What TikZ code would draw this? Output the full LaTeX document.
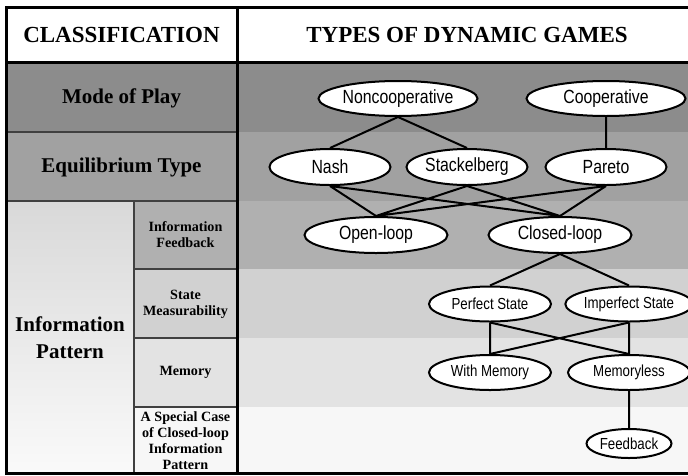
\documentclass[tikz,border=0pt]{standalone}
\usepackage{fontspec}
\setmainfont{Liberation Serif}
\newfontfamily\ellfont[FakeStretch=0.83]{Liberation Sans}
\usetikzlibrary{
  shapes.geometric,
  positioning
}
\definecolor{rowmode}{gray}{0.55}
\definecolor{rowequil}{gray}{0.63}
\definecolor{rowfb}{gray}{0.69}
\definecolor{rowmeas}{gray}{0.82}
\definecolor{rowmem}{gray}{0.89}
\definecolor{rowspec}{gray}{0.97}

\begin{document}
\begin{tikzpicture}[x=0.75pt, y=-0.75pt,
    game/.style = {ellipse, draw, line width=1.5pt, fill=white, inner sep=0pt,
      font=\ellfont\fontsize{14.3}{16}\selectfont},
    small/.style = {game, font=\ellfont\fontsize{12}{14}\selectfont},
    head/.style = {font=\bfseries\fontsize{17.25}{20}\selectfont},
    cls/.style = {font=\bfseries\fontsize{15.75}{20.25}\selectfont, align=center},
    sub/.style = {font=\bfseries\fontsize{10.6}{12}\selectfont, align=center},
    thin/.style = {line width=0.8pt, black!75},
    frame/.style = {line width=2.25pt}]
    \useasboundingbox (0,0) rectangle (688,475);
    \fill[white] (0,0) rectangle (688,475);

    % rows
    \fill[rowmode] (6,62) rectangle (697,132);
    \fill[rowequil] (6,132) rectangle (697,201);
    \fill[rowfb] (6,201) rectangle (697,269);
    \fill[rowmeas] (6,269) rectangle (697,338);
    \fill[rowmem] (6,338) rectangle (697,407);
    \fill[rowspec] (6,407) rectangle (697,473);
    \shade[top color=black!15, bottom color=black!2] (6,201) rectangle (134,473);

    \draw[thin] (6,132) -- (237,132);
    \draw[thin] (6,201) -- (237,201);
    \draw[thin] (134,201) -- (134,473);
    \draw[thin] (134,269) -- (237,269);
    \draw[thin] (134,338) -- (237,338);
    \draw[thin] (134,407) -- (237,407);
    \draw[frame] (6,7) rectangle (697,473);
    \draw[frame] (6,62) -- (697,62);
    \draw[frame] (237,7) -- (237,473);

    % classification
    \node[head] (clshead) at (121.5,35) {CLASSIFICATION};
    \node[head] (typeshead) at (467,35) {TYPES OF DYNAMIC GAMES};
    \node[cls] (mode) at (121.5,98) {Mode of Play};
    \node[cls] (equil) at (121.5,167) {Equilibrium Type};
    \node[cls] (pattern) at (70,338) {Information\\Pattern};
    \node[sub] (feedbk) at (185.5,235) {Information\\Feedback};
    \node[sub] (meas) at (185.5,304) {State\\Measurability};
    \node[sub] (memory) at (185.5,372.5) {Memory};
    \node[sub] (special) at (185.5,441) {A Special Case\\of Closed-loop\\Information\\Pattern};

    % types of games
    \node[game, minimum width=119.25pt, minimum height=26.25pt] (noncoop) at (398,98.5) {Noncooperative};
    \node[game, minimum width=119.25pt, minimum height=26.25pt] (coop) at (606,98.5) {Cooperative};
    \node[game, minimum width=90.75pt, minimum height=27pt] (nash) at (330,167) {Nash};
    \node[game, minimum width=90.75pt, minimum height=27pt] (stack) at (467,167) {Stackelberg};
    \node[game, minimum width=90.75pt, minimum height=27pt] (pareto) at (606,167) {Pareto};
    \node[game, minimum width=107.25pt, minimum height=27pt] (open) at (376,235) {Open-loop};
    \node[game, minimum width=107.25pt, minimum height=27pt] (closed) at (560,235) {Closed-loop};
    \node[small, minimum width=91.5pt, minimum height=26.25pt] (perfect) at (490,304) {Perfect State};
    \node[small, minimum width=91.5pt, minimum height=26.25pt] (imperfect) at (629,304) {Imperfect State};
    \node[small, minimum width=91.5pt, minimum height=26.25pt] (withmem) at (490,372.5) {With Memory};
    \node[small, minimum width=91.5pt, minimum height=26.25pt] (memless) at (629,372.5) {Memoryless};
    \node[small, minimum width=63.75pt, minimum height=21.75pt, below = 27.75pt of memless] (fbnode) {Feedback};

    \draw[line width=1.5pt] (noncoop.south) -- (nash.north)
      (noncoop.south) -- (stack.north)
      (coop) -- (pareto);
    \draw[line width=1.5pt] (nash.south) -- (open.north)
      (nash.south) -- (closed.north)
      (stack.south) -- (open.north)
      (stack.south) -- (closed.north)
      (pareto.south) -- (open.north)
      (pareto.south) -- (closed.north);
    \draw[line width=1.5pt] (closed.south) -- (perfect.north)
      (closed.south) -- (imperfect.north);
    \draw[line width=1.5pt] (perfect) -- (withmem)
      (perfect.south) -- (memless.north)
      (imperfect.south) -- (withmem.north)
      (imperfect) -- (memless)
      (memless) -- (fbnode);
\end{tikzpicture}
\end{document}
